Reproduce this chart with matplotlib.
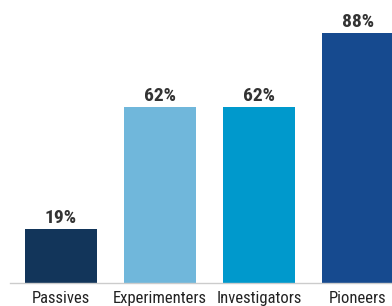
import matplotlib.pyplot as plt

categories = ['Passives', 'Experimenters', 'Investigators', 'Pioneers']
values = [19, 62, 62, 88]
colors = ['#12355a', '#70b7db', '#0099cc', '#164a8f']

plt.rcParams['font.family'] = ['Roboto Condensed', 'DejaVu Sans']

fig = plt.figure(figsize=(3.92, 3.06), dpi=100)
ax = fig.add_axes([10 / 392, 23 / 306, 382 / 392, 283 / 306])

x = range(len(categories))
bars = ax.bar(x, values, width=0.727, color=colors)

for b, v in zip(bars, values):
    ax.text(b.get_x() + b.get_width() / 2, v + 2.1, f'{v}%', ha='center', va='baseline',
            fontsize=14, fontweight='bold', color='#333333')

ax.set_xlim(-0.515, 3.343)
ax.set_ylim(0, 99.6)
ax.set_xticks(list(x))
ax.set_xticklabels(categories, fontsize=12, color='#222222')
ax.tick_params(axis='x', length=0, pad=6)
ax.set_yticks([])
for s in ['top', 'right', 'left']:
    ax.spines[s].set_visible(False)
ax.spines['bottom'].set_color('#cccccc')
ax.spines['bottom'].set_linewidth(1)

fig.savefig('out.png', dpi=100)
